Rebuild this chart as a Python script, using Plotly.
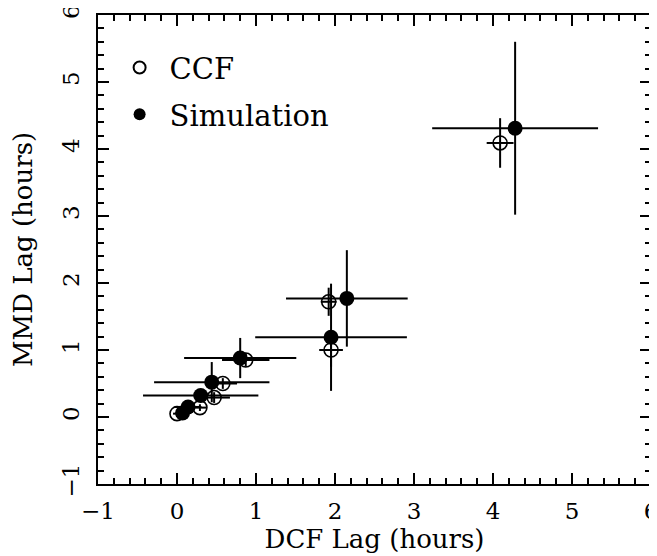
import plotly.graph_objects as go

# CCF (open circles)
ccf_x = [0.00, 0.29, 0.47, 0.58, 0.87, 1.92, 1.95, 4.09]
ccf_y = [0.05, 0.14, 0.29, 0.50, 0.85, 1.72, 1.00, 4.09]
ccf_xerr = [0.05, 0.08, 0.20, 0.18, 0.30, 0.10, 0.15, 0.17]
ccf_yerr = [0.05, 0.05, 0.08, 0.08, 0.10, 0.21, 0.25, 0.37]

# Simulation (filled circles)
sim_x = [0.07, 0.14, 0.30, 0.44, 0.80, 1.95, 2.15, 4.28]
sim_y = [0.06, 0.15, 0.32, 0.52, 0.88, 1.19, 1.77, 4.31]
sim_xerr = [0.05, 0.17, 0.73, 0.73, 0.71, 0.96, 0.77, 1.05]
sim_yerr = [0.05, 0.08, 0.10, 0.30, 0.30, 0.80, 0.72, 1.29]

x_ticks = [-1, 0, 1, 2, 3, 4, 5, 6]
x_ticklabels = ["\u22121", "0", "1", "2", "3", "4", "5", "6"]
y_ticks = [-1, 0, 1, 2, 3, 4, 5, 6]
y_ticklabels = ["\u22121", "0", "1", "2", "3", "4", "5", "6"]
axis_range = [-1, 6]

FONT = "DejaVu Serif"

fig = go.Figure()
fig.add_trace(go.Scatter(
    x=ccf_x, y=ccf_y, mode="markers", name="CCF", legendgroup="a",
    marker=dict(symbol="circle-open", size=14, color="black", line=dict(width=1.6, color="black")),
    error_x=dict(type="data", array=ccf_xerr, width=0, thickness=2, color="black"),
    error_y=dict(type="data", array=ccf_yerr, width=0, thickness=2, color="black"),
))
fig.add_trace(go.Scatter(
    x=sim_x, y=sim_y, mode="markers", name="Simulation", legendgroup="b",
    marker=dict(symbol="circle", size=15, color="black", line=dict(width=0)),
    error_x=dict(type="data", array=sim_xerr, width=0, thickness=2, color="black"),
    error_y=dict(type="data", array=sim_yerr, width=0, thickness=2, color="black"),
))
# empty trace to create mirrored top/right axes (for minor ticks)
fig.add_trace(go.Scatter(x=[None], y=[None], xaxis="x2", yaxis="y2",
                         showlegend=False, hoverinfo="skip"))

minor = dict(dtick=0.2, ticks="inside", ticklen=6, tickwidth=1.5, tickcolor="black", showgrid=False)
axis_common = dict(
    range=axis_range, showline=True, linewidth=2, linecolor="black",
    ticks="inside", ticklen=11, tickwidth=1.5, tickcolor="black",
    showgrid=False, zeroline=False, automargin=False,
    tickfont=dict(family=FONT, size=23, color="black"),
    minor=minor,
)

fig.update_layout(
    xaxis=dict(tickvals=x_ticks, ticktext=x_ticklabels, ticklabelstandoff=5,
               ticklabeloverflow="allow",
               title=dict(text="DCF Lag (hours)", font=dict(family=FONT, size=26, color="black"), standoff=4),
               **axis_common),
    yaxis=dict(tickvals=y_ticks, ticktext=y_ticklabels, tickangle=-90, ticklabelstandoff=8,
               ticklabeloverflow="allow",
               title=dict(text="MMD Lag (hours)", font=dict(family=FONT, size=26, color="black"), standoff=20),
               **axis_common),
    xaxis2=dict(overlaying="x", side="top", tickvals=x_ticks, showticklabels=False, **axis_common),
    yaxis2=dict(overlaying="y", side="right", tickvals=y_ticks, showticklabels=False, **axis_common),
    width=649, height=548,
    margin=dict(l=90, r=6, t=7, b=72),
    paper_bgcolor="white", plot_bgcolor="white",
    showlegend=True,
    legend=dict(x=0.021, y=0.942, xanchor="left", yanchor="top",
                font=dict(family=FONT, size=29, color="black"),
                bgcolor="rgba(0,0,0,0)", tracegroupgap=6, itemsizing="constant",
                itemwidth=50),
)

fig.write_html("out.html")
